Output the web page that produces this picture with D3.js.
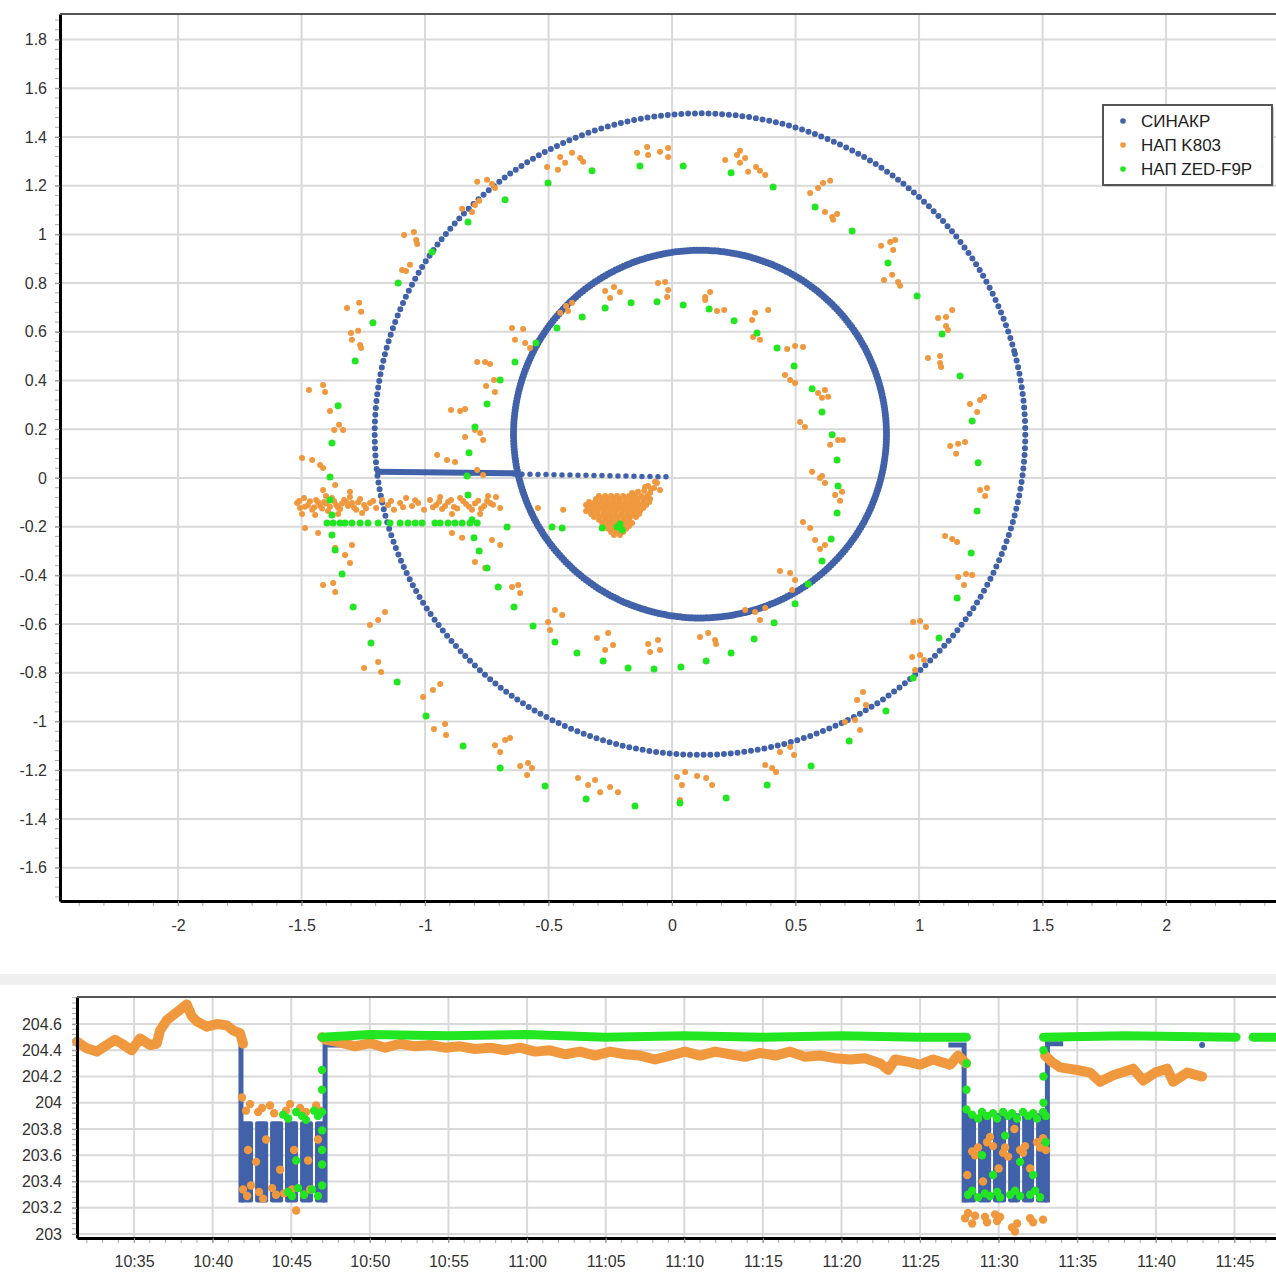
<!DOCTYPE html>
<html>
<head>
<meta charset="utf-8">
<script src="https://cdn.jsdelivr.net/npm/d3@7"></script>
<style>
body { margin: 0; background: #fff; }
text { font-family: "Liberation Sans", Arial, sans-serif; }
.tick text { fill: #333; font-size: 16px; }
</style>
</head>
<body>
<script>
//plan view (top) + altitude vs time (bottom)

var w = 1276, h = 1273;

var seriesNames = ["СИНАКР", "НАП K803", "НАП ZED-F9P"];
var seriesColors = ["#4161a9", "#f0983e", "#22e622"];

/* ---------- top chart data ---------- */
var xTopTicks = [-2, -1.5, -1, -0.5, 0, 0.5, 1, 1.5, 2];
var yTopTicks = [-1.6, -1.4, -1.2, -1, -0.8, -0.6, -0.4, -0.2, 0, 0.2, 0.4, 0.6, 0.8, 1, 1.2, 1.4, 1.6, 1.8];

//СИНАКР trajectory: two rings and the radial run-in
var outerRing = [[1.430,0.180],[1.385,0.521],[1.254,0.839],[1.044,1.111],[0.772,1.321],[0.454,1.452],[0.113,1.497],[-0.228,1.452],[-0.546,1.321],[-0.818,1.111],[-1.028,0.839],[-1.159,0.521],[-1.204,0.180],[-1.159,-0.161],[-1.028,-0.479],[-0.818,-0.751],[-0.546,-0.961],[-0.228,-1.092],[0.113,-1.137],[0.454,-1.092],[0.772,-0.961],[1.044,-0.751],[1.254,-0.479],[1.385,-0.161]];
var innerRing = [[0.868,0.180],[0.842,0.375],[0.767,0.558],[0.647,0.714],[0.491,0.834],[0.308,0.909],[0.113,0.935],[-0.082,0.909],[-0.265,0.834],[-0.421,0.714],[-0.541,0.558],[-0.616,0.375],[-0.642,0.180],[-0.616,-0.015],[-0.541,-0.198],[-0.421,-0.354],[-0.265,-0.474],[-0.082,-0.549],[0.113,-0.575],[0.308,-0.549],[0.491,-0.474],[0.647,-0.354],[0.767,-0.198],[0.842,-0.015]];
var radialSolid = [[-1.19,0.025],[-0.64,0.019]];
var radialDotted = [[-0.64,0.016],[-0.30,0.010],[0,0.004]];

//НАП K803 fixes
var k803Points = [
[-0.789,1.216],[-0.749,1.224],[-0.729,1.207],[-0.717,1.191],
[-0.506,1.277],[-0.453,1.318],[-0.433,1.294],[-0.405,1.335],[-0.372,1.314],[-0.360,1.298],[-0.462,1.265],
[-0.142,1.335],[-0.101,1.359],[-0.097,1.326],[-0.049,1.339],[-0.016,1.355],[-0.016,1.318],
[-0.850,1.105],[-0.798,1.121],[-0.781,1.138],[-0.810,1.092],
[-1.085,0.998],[-1.045,1.010],[-1.036,0.977],[-1.032,0.961],
[-1.093,0.854],[-1.061,0.875],[-1.077,0.850],
[-1.316,0.698],[-1.267,0.719],[-1.259,0.682],
[-1.300,0.595],[-1.271,0.604],[-1.296,0.567],[-1.263,0.546],[-1.259,0.534],
[-1.470,0.361],[-1.413,0.382],[-1.405,0.353],
[-1.385,0.275],[-1.348,0.218],[-1.332,0.197],[-1.368,0.197],
[-1.498,0.082],[-1.457,0.074],[-1.425,0.053],[-1.413,0.041],
[-0.648,0.616],[-0.603,0.612],[-0.636,0.567],[-0.595,0.554],[-0.575,0.534],
[-0.789,0.476],[-0.757,0.476],[-0.737,0.468],
[-0.753,0.378],[-0.721,0.402],[-0.717,0.353],
[-0.895,0.279],[-0.858,0.275],[-0.838,0.283],
[-0.838,0.168],[-0.798,0.197],[-0.777,0.185],[-0.765,0.156],
[-0.951,0.094],[-0.911,0.074],[-0.879,0.066],[-0.789,0.033],
[-0.453,0.678],[-0.429,0.706],[-0.405,0.719],[-0.421,0.686],
[-0.271,0.768],[-0.235,0.784],[-0.211,0.764],[-0.251,0.739],
[-0.057,0.801],[-0.028,0.805],[-0.016,0.772],[-0.020,0.743],
[0.215,1.306],[0.263,1.326],[0.275,1.343],[0.296,1.314],[0.275,1.294],
[0.308,1.257],[0.340,1.277],[0.356,1.261],[0.377,1.244],
[0.559,1.170],[0.591,1.191],[0.611,1.211],[0.640,1.220],
[0.619,1.092],[0.648,1.072],[0.668,1.084],[0.652,1.060],
[0.846,0.953],[0.883,0.969],[0.903,0.977],[0.895,0.936],
[0.858,0.813],[0.891,0.834],[0.915,0.805],[0.923,0.789],
[1.077,0.657],[1.109,0.661],[1.134,0.690],[1.109,0.624],[1.117,0.608],
[1.036,0.493],[1.085,0.501],[1.085,0.472],[1.089,0.456],
[1.206,0.304],[1.247,0.320],[1.263,0.333],[1.235,0.271],
[1.126,0.131],[1.158,0.140],[1.186,0.148],[1.150,0.099],
[0.134,0.743],[0.154,0.764],[0.134,0.731],[0.182,0.686],[0.211,0.690],
[0.336,0.678],[0.389,0.690],[0.324,0.649],[0.328,0.579],[0.356,0.567],
[0.466,0.530],[0.498,0.542],[0.530,0.538],
[0.457,0.423],[0.478,0.402],[0.498,0.390],
[0.591,0.349],[0.619,0.361],[0.632,0.333],[0.607,0.329],
[0.518,0.230],[0.538,0.209],
[0.640,0.136],[0.672,0.156],[0.692,0.156],
[0.567,0.025],[0.599,0.000],
[0.607,0.008],[0.619,-0.021],[0.660,-0.070],[0.688,-0.057],[0.680,-0.094],
[0.530,-0.181],[0.559,-0.205],[0.579,-0.255],[0.619,-0.275],[0.599,-0.292],
[0.437,-0.382],[0.478,-0.390],[0.498,-0.419],[0.486,-0.460],
[0.296,-0.542],[0.336,-0.550],[0.377,-0.534],[0.356,-0.583],
[0.113,-0.653],[0.146,-0.637],[0.174,-0.665],[0.178,-0.682],
[1.247,-0.049],[1.275,-0.041],[1.267,-0.074],
[1.105,-0.238],[1.134,-0.251],[1.154,-0.263],
[1.158,-0.407],[1.190,-0.394],[1.215,-0.398],[1.182,-0.439],
[0.976,-0.591],[1.004,-0.587],[1.028,-0.612],
[0.972,-0.735],[1.004,-0.727],[1.020,-0.747],[0.984,-0.789],
[0.749,-0.912],[0.773,-0.879],[0.785,-0.932],
[0.700,-1.002],[0.741,-0.994],[0.761,-1.035],
[0.437,-1.125],[0.478,-1.105],[0.494,-1.138],
[0.377,-1.179],[0.405,-1.191],[0.421,-1.207],
[0.020,-1.228],[0.053,-1.207],[0.040,-1.261],[0.101,-1.224],[0.138,-1.232],[0.162,-1.261],[0.032,-1.322],
[-1.486,-0.205],[-1.433,-0.226],[-1.413,-0.049],[-1.364,-0.029],[-1.304,-0.057],
[-1.364,-0.287],[-1.324,-0.316],[-1.296,-0.275],[-1.304,-0.349],
[-1.413,-0.439],[-1.372,-0.431],[-1.364,-0.468],
[-1.223,-0.604],[-1.190,-0.583],[-1.162,-0.550],
[-1.247,-0.780],[-1.190,-0.756],[-1.178,-0.797],
[-1.008,-0.899],[-0.968,-0.871],[-0.939,-0.846],
[-0.964,-1.031],[-0.919,-1.010],[-0.915,-1.055],
[-0.717,-1.097],[-0.676,-1.076],[-0.656,-1.068],[-0.696,-1.125],
[-0.615,-1.183],[-0.583,-1.170],[-0.567,-1.191],[-0.587,-1.220],
[-0.381,-1.232],[-0.340,-1.261],[-0.312,-1.240],[-0.291,-1.290],[-0.251,-1.269],[-0.219,-1.290],
[-0.502,-0.591],[-0.474,-0.542],[-0.445,-0.563],[-0.494,-0.624],
[-0.648,-0.448],[-0.623,-0.439],[-0.615,-0.472],
[-0.304,-0.657],[-0.259,-0.637],[-0.271,-0.706],[-0.239,-0.686],
[-0.097,-0.682],[-0.057,-0.665],[-0.049,-0.706],[-0.089,-0.715],
[-0.891,-0.226],[-0.850,-0.246],[-0.798,-0.345],[-0.757,-0.370],[-0.729,-0.255],[-0.696,-0.275],
[-0.696,-0.123],[-0.543,-0.123],[-0.441,-0.131],[-0.765,0.012],
//dense band left of the rings
[-1.518,-0.103],[-1.506,-0.123],[-1.490,-0.082],[-1.474,-0.111],[-1.457,-0.131],[-1.441,-0.090],[-1.425,-0.115],[-1.409,-0.099],[-1.393,-0.136],[-1.377,-0.082],
[-1.360,-0.111],[-1.344,-0.127],[-1.328,-0.090],[-1.312,-0.115],[-1.296,-0.103],[-1.279,-0.131],[-1.263,-0.086],[-1.247,-0.111],[-1.223,-0.103],[-1.198,-0.123],
[-1.174,-0.090],[-1.150,-0.111],[-1.126,-0.131],[-1.101,-0.103],[-1.077,-0.082],[-1.053,-0.115],[-1.028,-0.103],[-1.004,-0.131],[-0.980,-0.090],[-0.955,-0.111],
[-0.931,-0.127],[-0.907,-0.099],[-0.883,-0.119],[-0.858,-0.082],[-0.834,-0.107],[-0.810,-0.131],[-0.785,-0.094],[-0.761,-0.115],[-0.737,-0.103],[-0.713,-0.078],
[-1.498,-0.148],[-1.445,-0.152],[-1.401,-0.074],[-1.352,-0.148],[-1.304,-0.078],[-1.255,-0.144],[-0.939,-0.078],[-0.891,-0.148],[-0.826,-0.070],[-0.777,-0.148],[-0.745,-0.074],
[-1.510,-0.095],[-1.486,-0.118],[-1.466,-0.096],[-1.449,-0.120],[-1.433,-0.100],[-1.417,-0.125],[-1.401,-0.105],[-1.385,-0.118],[-1.368,-0.096],[-1.352,-0.122],
[-1.336,-0.105],[-1.320,-0.098],[-1.288,-0.120],[-1.271,-0.100],[-1.239,-0.125],[-1.210,-0.095],[-1.138,-0.095],[-1.089,-0.120],[-1.040,-0.092],
[-0.968,-0.120],[-0.943,-0.098],[-0.919,-0.115],[-0.895,-0.090],[-0.870,-0.125],[-0.846,-0.095],[-0.822,-0.118],[-0.798,-0.105],[-0.773,-0.125],[-0.749,-0.095],[-0.725,-0.110],
//cluster near the origin
[-0.097,-0.033],[-0.073,-0.041],[-0.069,-0.016],[-0.049,-0.049],[-0.085,-0.045],[-0.061,-0.021],[-0.109,-0.037],
[-0.162,-0.062],[-0.138,-0.057],[-0.113,-0.053],[-0.089,-0.062],
[-0.296,-0.074],[-0.271,-0.074],[-0.247,-0.074],[-0.223,-0.074],[-0.198,-0.074],[-0.174,-0.074],[-0.150,-0.074],[-0.125,-0.074],[-0.101,-0.074],
[-0.308,-0.086],[-0.283,-0.086],[-0.259,-0.086],[-0.235,-0.086],[-0.211,-0.086],[-0.186,-0.086],[-0.162,-0.086],[-0.138,-0.086],[-0.113,-0.086],[-0.089,-0.086],
[-0.336,-0.099],[-0.312,-0.099],[-0.287,-0.099],[-0.263,-0.099],[-0.239,-0.099],[-0.215,-0.099],[-0.190,-0.099],[-0.166,-0.099],[-0.142,-0.099],[-0.117,-0.099],[-0.093,-0.099],
[-0.348,-0.111],[-0.324,-0.111],[-0.300,-0.111],[-0.275,-0.111],[-0.251,-0.111],[-0.227,-0.111],[-0.202,-0.111],[-0.178,-0.111],[-0.154,-0.111],[-0.130,-0.111],[-0.105,-0.111],
[-0.336,-0.123],[-0.312,-0.123],[-0.287,-0.123],[-0.263,-0.123],[-0.239,-0.123],[-0.215,-0.123],[-0.190,-0.123],[-0.166,-0.123],[-0.142,-0.123],[-0.117,-0.123],
[-0.348,-0.136],[-0.324,-0.136],[-0.300,-0.136],[-0.275,-0.136],[-0.251,-0.136],[-0.227,-0.136],[-0.202,-0.136],[-0.178,-0.136],[-0.154,-0.136],[-0.130,-0.136],
[-0.328,-0.148],[-0.304,-0.148],[-0.279,-0.148],[-0.255,-0.148],[-0.231,-0.148],[-0.206,-0.148],[-0.182,-0.148],[-0.158,-0.148],[-0.134,-0.148],
[-0.316,-0.160],[-0.291,-0.160],[-0.267,-0.160],[-0.243,-0.160],[-0.219,-0.160],[-0.194,-0.160],[-0.170,-0.160],[-0.146,-0.160],
[-0.296,-0.172],[-0.271,-0.172],[-0.247,-0.172],[-0.223,-0.172],[-0.198,-0.172],[-0.174,-0.172],
[-0.283,-0.185],[-0.259,-0.185],[-0.235,-0.185],[-0.211,-0.185],[-0.186,-0.185],[-0.162,-0.185],
[-0.271,-0.197],[-0.247,-0.197],[-0.223,-0.197],[-0.198,-0.197],[-0.174,-0.197],
[-0.259,-0.209],[-0.235,-0.209],[-0.211,-0.209],[-0.186,-0.209],
[-0.247,-0.222],[-0.223,-0.222],[-0.198,-0.222],
[-0.235,-0.234],[-0.211,-0.234]
];

//НАП ZED-F9P fixes
var zedPoints = [
[-0.676,1.142],[-0.826,1.051],[-0.972,0.928],[-1.109,0.801],[-1.211,0.637],[-1.283,0.480],[-1.352,0.296],[-1.377,0.144],[-1.385,0.004],
[-0.502,1.211],[-0.324,1.261],[-0.130,1.281],[0.045,1.281],
[-0.466,0.616],[-0.551,0.554],[-0.636,0.476],[-0.696,0.402],[-0.749,0.304],[-0.798,0.209],[-0.822,0.103],[-0.830,0.008],
[-0.364,0.661],[-0.271,0.698],[-0.166,0.719],[-0.061,0.723],[0.045,0.710],
[0.239,1.253],[0.409,1.195],[0.579,1.113],[0.729,1.014],[0.874,0.883],[0.992,0.747],[1.093,0.591],[1.166,0.419],[1.215,0.234],[1.239,0.062],
[0.150,0.694],[0.251,0.645],[0.344,0.595],[0.425,0.534],[0.494,0.460],[0.567,0.366],[0.607,0.271],[0.648,0.177],[0.668,0.074],
[0.672,-0.033],[0.668,-0.144],[0.644,-0.251],[0.607,-0.341],[0.551,-0.435],[0.498,-0.517],[0.413,-0.595],[0.332,-0.661],[0.239,-0.719],[0.138,-0.752],[0.036,-0.776],
[1.235,-0.136],[1.211,-0.308],[1.154,-0.493],[1.081,-0.657],[0.976,-0.821],[0.866,-0.957],[0.717,-1.080],[0.563,-1.183],[0.385,-1.261],[0.219,-1.314],[0.032,-1.335],
[-1.397,-0.185],[-1.372,-0.185],[-1.344,-0.185],[-1.324,-0.185],[-1.296,-0.185],[-1.263,-0.185],[-1.231,-0.185],[-1.190,-0.185],[-1.142,-0.185],[-1.101,-0.185],
[-1.069,-0.185],[-1.040,-0.185],[-1.012,-0.185],[-0.960,-0.185],[-0.939,-0.185],[-0.907,-0.185],[-0.879,-0.185],[-0.850,-0.185],[-0.818,-0.185],[-0.789,-0.185],
[-0.668,-0.201],[-0.486,-0.201],[-0.445,-0.205],[-0.283,-0.205],[-0.223,-0.201],[-0.202,-0.214],[-0.211,-0.189],
[-1.385,-0.090],[-1.377,-0.152],[-1.377,-0.234],[-1.364,-0.296],[-1.336,-0.394],[-1.291,-0.530],[-1.219,-0.678],[-1.113,-0.838],[-0.996,-0.977],[-0.846,-1.101],[-0.696,-1.191],[-0.514,-1.265],[-0.348,-1.318],[-0.150,-1.347],
[-0.826,-0.070],[-0.810,-0.172],[-0.802,-0.246],[-0.781,-0.300],[-0.749,-0.370],[-0.704,-0.448],[-0.640,-0.530],[-0.563,-0.608],[-0.474,-0.674],[-0.385,-0.719],[-0.279,-0.752],[-0.178,-0.780],[-0.073,-0.784]
];

/* ---------- bottom chart data (minutes after 10:00, height) ---------- */
var yBotTicks = [203, 203.2, 203.4, 203.6, 203.8, 204, 204.2, 204.4, 204.6];

var sinakrSteps = [
    [[41.80,204.44],[41.80,203.24]],
    [[47.15,203.24],[47.15,204.44],[50.50,204.44]],
    [[86.80,204.44],[87.80,204.44],[87.80,203.24]],
    [[93.10,203.24],[93.10,204.45],[94.10,204.45]]
];
//start, end, top of each dense column of СИНАКР points
var sinakrColumns = [[41.74,42.57,203.86],[42.70,43.53,203.86],[43.65,44.48,203.86],[44.60,45.43,203.86],[45.56,46.38,203.86],[46.51,47.21,203.86],
    [87.73,88.56,203.92],[88.69,89.52,203.92],[89.64,90.47,203.92],[90.60,91.36,203.92],[91.49,92.25,203.92],[92.38,93.15,203.92]];
var sinakrBottom = 203.24;
var sinakrLone = [[102.94,204.44]];

var k803Before = [[31.37,204.465],[31.99,204.415],[32.63,204.39],[33.26,204.44],[33.79,204.48],[34.22,204.45],[34.85,204.40],[35.38,204.49],[36.02,204.44],[36.44,204.45],[36.65,204.55],[37.08,204.63],[37.50,204.67],[37.93,204.71],[38.35,204.75],[38.67,204.66],[38.99,204.62],[39.62,204.58],[40.26,204.60],[40.90,204.59],[41.32,204.55],[41.74,204.53],[41.93,204.45]];
var k803Middle = [[46.96,204.50],[47.21,204.48],[48.10,204.46],[49.06,204.43],[50.01,204.455],[50.97,204.42],[51.92,204.45],[52.88,204.43],[53.83,204.44],[54.78,204.42],[55.74,204.43],[56.69,204.41],[57.65,204.42],[58.60,204.40],[59.55,204.42],[60.51,204.39],[61.46,204.40],[62.42,204.37],[63.37,204.39],[64.33,204.36],[65.28,204.39],[66.23,204.37],[67.19,204.36],[68.14,204.33],[69.10,204.36],[70.05,204.39],[71.01,204.36],[71.96,204.39],[72.91,204.37],[73.87,204.35],[74.82,204.38],[75.78,204.36],[76.73,204.39],[77.68,204.35],[78.64,204.36],[79.59,204.34],[80.55,204.33],[81.50,204.34],[82.46,204.30],[82.97,204.25],[83.41,204.33],[84.36,204.31],[85.00,204.29],[85.83,204.33],[86.91,204.29],[87.42,204.36],[87.93,204.30]];
var k803After = [[92.95,204.36],[93.40,204.31],[93.91,204.27],[94.99,204.25],[95.82,204.23],[96.45,204.16],[97.28,204.21],[98.55,204.26],[99.19,204.17],[99.95,204.23],[100.71,204.26],[101.10,204.16],[101.99,204.23],[102.94,204.20]];
var k803Scatter = [
[42.12,203.94],[42.38,203.99],[42.89,203.93],[43.14,203.96],[43.65,203.98],[43.91,203.92],[44.67,203.94],[44.92,203.99],[45.56,203.96],[45.94,203.93],[46.58,203.98],[46.83,203.94],
[41.93,203.34],[42.19,203.29],[42.44,203.37],[42.95,203.32],[43.21,203.27],[43.78,203.35],[44.03,203.30],[44.54,203.31],[45.05,203.34],[45.31,203.18],[45.81,203.30],[46.20,203.34],
[41.87,204.04],[42.25,203.64],[42.76,203.55],[43.40,203.72],[44.29,203.49],[45.18,203.64],[46.07,203.56],[46.70,203.72],
[88.31,203.63],[88.50,203.60],[88.69,203.66],[89.26,203.70],[89.45,203.74],[89.64,203.67],[90.28,203.62],[90.41,203.66],[90.60,203.59],[91.36,203.64],[91.55,203.62],[91.68,203.67],[92.44,203.70],[92.63,203.66],[92.82,203.73],[93.00,203.64],
[87.86,203.12],[88.05,203.16],[88.31,203.08],[88.50,203.14],[89.13,203.13],[89.26,203.09],[89.77,203.15],[89.90,203.10],[90.09,203.13],[90.85,203.05],[91.04,203.02],[91.17,203.08],[92.00,203.12],[92.19,203.09],[92.82,203.11],
[88.00,203.45],[89.00,203.40],[90.00,203.50],[91.00,203.80],[92.00,203.50]
];

var zedMiddle = [[46.96,204.50],[50,204.52],[55,204.51],[60,204.52],[65,204.50],[70,204.51],[75,204.50],[80,204.51],[85,204.50],[87.95,204.50]];
var zedAfter = [[92.85,204.50],[98,204.51],[105.10,204.50]];
var zedEnd = [[106.18,204.50],[107.64,204.50]];
var zedScatter = [
[44.48,203.91],[44.80,203.88],[45.31,203.93],[45.69,203.90],[45.94,203.87],[46.45,203.94],[46.70,203.90],[46.96,203.93],
[44.80,203.32],[45.05,203.29],[45.43,203.35],[45.81,203.30],[46.32,203.34],[46.70,203.29],[46.96,203.37],
[46.96,203.64],[46.96,203.53],[46.96,203.79],[46.96,204.10],[46.96,204.25],[45.31,203.56],
[88.31,203.91],[88.69,203.88],[88.94,203.93],[89.26,203.90],[89.64,203.92],[89.90,203.88],[90.28,203.93],[90.60,203.90],[90.85,203.92],[91.17,203.88],[91.55,203.93],[91.87,203.90],[92.19,203.92],[92.44,203.88],[92.82,203.93],[93.00,203.90],
[88.05,203.30],[88.31,203.33],[88.69,203.28],[89.13,203.31],[89.45,203.29],[89.90,203.32],[90.09,203.28],[90.73,203.30],[91.04,203.33],[91.36,203.29],[92.00,203.30],[92.32,203.33],[92.63,203.28],
[88.94,203.60],[89.64,203.45],[90.41,203.75],[91.36,203.55],[92.19,203.45],[93.00,203.70],
[87.95,204.30],[87.95,204.10],[87.95,203.95],[92.85,204.00],[92.85,204.20],[92.85,204.40]
];

window.onload = function(){

    var svg = d3.select("body")
        .append("svg")
        .attr("width", w)
        .attr("height", h);

    var gridColor = "#d9d9d9";
    var fmtNum = function(d){ return String(+d.toFixed(2)); };

    /* ================= top chart ================= */
    var xTop = d3.scaleLinear().domain([-2.478, 2.445]).range([60, 1276]);
    var yTop = d3.scaleLinear().domain([-1.737, 1.905]).range([901, 14]);

    var top = svg.append("g").attr("class", "topChart");

    //gridlines
    top.selectAll(".vgrid")
        .data(xTopTicks)
        .enter()
        .append("line")
        .attr("x1", function(d){ return xTop(d); })
        .attr("x2", function(d){ return xTop(d); })
        .attr("y1", yTop.range()[1])
        .attr("y2", yTop.range()[0])
        .style("stroke", gridColor)
        .style("stroke-width", 2);

    top.selectAll(".hgrid")
        .data(yTopTicks)
        .enter()
        .append("line")
        .attr("x1", xTop.range()[0])
        .attr("x2", xTop.range()[1])
        .attr("y1", function(d){ return yTop(d); })
        .attr("y2", function(d){ return yTop(d); })
        .style("stroke", gridColor)
        .style("stroke-width", 2);

    //СИНАКР drawn as dotted rings
    var ringLine = d3.line()
        .x(function(d){ return xTop(d[0]); })
        .y(function(d){ return yTop(d[1]); })
        .curve(d3.curveCardinalClosed);

    var openLine = d3.line()
        .x(function(d){ return xTop(d[0]); })
        .y(function(d){ return yTop(d[1]); });

    top.append("path")
        .attr("d", ringLine(outerRing))
        .style("fill", "none")
        .style("stroke", seriesColors[0])
        .style("stroke-width", 6)
        .style("stroke-linecap", "round")
        .style("stroke-dasharray", "0 6.8");

    top.append("path")
        .attr("d", ringLine(innerRing))
        .style("fill", "none")
        .style("stroke", seriesColors[0])
        .style("stroke-width", 7)
        .style("stroke-linecap", "round")
        .style("stroke-dasharray", "0 3");

    top.append("path")
        .attr("d", openLine(radialSolid))
        .style("fill", "none")
        .style("stroke", seriesColors[0])
        .style("stroke-width", 6)
        .style("stroke-linecap", "round");

    top.append("path")
        .attr("d", openLine(radialDotted))
        .style("fill", "none")
        .style("stroke", seriesColors[0])
        .style("stroke-width", 5.5)
        .style("stroke-linecap", "round")
        .style("stroke-dasharray", "0 8");

    top.selectAll(".k803")
        .data(k803Points)
        .enter()
        .append("circle")
        .attr("class", "k803")
        .attr("cx", function(d){ return xTop(d[0]); })
        .attr("cy", function(d){ return yTop(d[1]); })
        .attr("r", 3)
        .style("fill", seriesColors[1]);

    top.selectAll(".zed")
        .data(zedPoints)
        .enter()
        .append("circle")
        .attr("class", "zed")
        .attr("cx", function(d){ return xTop(d[0]); })
        .attr("cy", function(d){ return yTop(d[1]); })
        .attr("r", 3.5)
        .style("fill", seriesColors[2]);

    //axes
    var xTopAxis = d3.axisBottom(xTop)
        .tickValues(xTopTicks)
        .tickFormat(fmtNum)
        .tickSize(5)
        .tickSizeOuter(0)
        .tickPadding(14);

    var yTopAxis = d3.axisLeft(yTop)
        .tickValues(yTopTicks)
        .tickFormat(fmtNum)
        .tickSize(5)
        .tickSizeOuter(0)
        .tickPadding(8);

    //minor ticks
    top.selectAll(".xminor")
        .data(d3.range(-24, 25))
        .enter()
        .append("line")
        .attr("x1", function(d){ return xTop(d / 10); })
        .attr("x2", function(d){ return xTop(d / 10); })
        .attr("y1", 901)
        .attr("y2", 906)
        .style("stroke", "#aaa");

    top.selectAll(".yminor")
        .data(d3.range(-43, 48))
        .enter()
        .append("line")
        .attr("x1", 55)
        .attr("x2", 60)
        .attr("y1", function(d){ return yTop(d * 0.04); })
        .attr("y2", function(d){ return yTop(d * 0.04); })
        .style("stroke", "#aaa");

    var gx = top.append("g")
        .attr("class", "axis")
        .attr("transform", "translate(0,901)")
        .call(xTopAxis);

    var gy = top.append("g")
        .attr("class", "axis")
        .attr("transform", "translate(60,0)")
        .call(yTopAxis);

    [gx, gy].forEach(function(g){
        g.select(".domain").style("stroke", "#000").style("stroke-width", 3);
        g.selectAll(".tick line").style("stroke", "#999");
    });

    top.append("line")
        .attr("x1", 60).attr("x2", 1276)
        .attr("y1", 14).attr("y2", 14)
        .style("stroke", "#555")
        .style("stroke-width", 2);

    //legend
    var legend = top.append("g")
        .attr("transform", "translate(1103,105)");

    legend.append("rect")
        .attr("x", 2).attr("y", 2)
        .attr("width", 169).attr("height", 80)
        .style("fill", "#ccc");

    legend.append("rect")
        .attr("width", 169)
        .attr("height", 80)
        .style("fill", "#fff")
        .style("stroke", "#555")
        .style("stroke-width", 2);

    var items = legend.selectAll(".item")
        .data(seriesNames)
        .enter()
        .append("g")
        .attr("transform", function(d, i){ return "translate(0," + (16 + i * 24) + ")"; });

    items.append("circle")
        .attr("cx", 20)
        .attr("r", 2.8)
        .style("fill", function(d, i){ return seriesColors[i]; });

    items.append("text")
        .attr("x", 38)
        .attr("dy", "0.36em")
        .style("font-size", "17px")
        .style("fill", "#222")
        .text(function(d){ return d; });

    //separator band between the charts
    svg.append("rect")
        .attr("x", 0).attr("y", 974)
        .attr("width", w).attr("height", 11)
        .style("fill", "#efefef");

    /* ================= bottom chart ================= */
    var t0 = new Date(2020, 0, 1, 10, 0, 0);
    var toTime = function(m){ return new Date(t0.getTime() + m * 60000); };

    var xBot = d3.scaleTime().domain([toTime(31.37), toTime(107.64)]).range([77, 1276]);
    var yBot = d3.scaleLinear().domain([202.97, 204.806]).range([1238, 997]);

    var bot = svg.append("g").attr("class", "bottomChart");

    var timeTicks = xBot.ticks(d3.timeMinute.every(5));

    bot.selectAll(".vgrid")
        .data(timeTicks)
        .enter()
        .append("line")
        .attr("x1", function(d){ return xBot(d); })
        .attr("x2", function(d){ return xBot(d); })
        .attr("y1", 997)
        .attr("y2", 1238)
        .style("stroke", gridColor)
        .style("stroke-width", 2);

    bot.selectAll(".hgrid")
        .data(yBotTicks)
        .enter()
        .append("line")
        .attr("x1", 77)
        .attr("x2", 1276)
        .attr("y1", function(d){ return yBot(d); })
        .attr("y2", function(d){ return yBot(d); })
        .style("stroke", gridColor)
        .style("stroke-width", 2);

    var botLine = d3.line()
        .x(function(d){ return xBot(toTime(d[0])); })
        .y(function(d){ return yBot(d[1]); });

    //СИНАКР
    bot.selectAll(".col")
        .data(sinakrColumns)
        .enter()
        .append("rect")
        .attr("x", function(d){ return xBot(toTime(d[0])); })
        .attr("width", function(d){ return xBot(toTime(d[1])) - xBot(toTime(d[0])); })
        .attr("y", function(d){ return yBot(d[2]); })
        .attr("height", function(d){ return yBot(sinakrBottom) - yBot(d[2]); })
        .attr("rx", 2)
        .style("fill", seriesColors[0]);

    bot.selectAll(".step")
        .data(sinakrSteps)
        .enter()
        .append("path")
        .attr("d", botLine)
        .style("fill", "none")
        .style("stroke", seriesColors[0])
        .style("stroke-width", 5);

    bot.selectAll(".lone")
        .data(sinakrLone)
        .enter()
        .append("circle")
        .attr("cx", function(d){ return xBot(toTime(d[0])); })
        .attr("cy", function(d){ return yBot(d[1]); })
        .attr("r", 3)
        .style("fill", seriesColors[0]);

    //НАП K803
    bot.selectAll(".k803line")
        .data([k803Before, k803Middle, k803After])
        .enter()
        .append("path")
        .attr("d", botLine)
        .style("fill", "none")
        .style("stroke", seriesColors[1])
        .style("stroke-width", 10)
        .style("stroke-linejoin", "round")
        .style("stroke-linecap", "round");

    bot.selectAll(".k803dot")
        .data(k803Scatter)
        .enter()
        .append("circle")
        .attr("cx", function(d){ return xBot(toTime(d[0])); })
        .attr("cy", function(d){ return yBot(d[1]); })
        .attr("r", 4.2)
        .style("fill", seriesColors[1]);

    //НАП ZED-F9P
    bot.selectAll(".zedline")
        .data([zedMiddle, zedAfter, zedEnd])
        .enter()
        .append("path")
        .attr("d", botLine)
        .style("fill", "none")
        .style("stroke", seriesColors[2])
        .style("stroke-width", 9)
        .style("stroke-linecap", "round");

    bot.selectAll(".zeddot")
        .data(zedScatter)
        .enter()
        .append("circle")
        .attr("cx", function(d){ return xBot(toTime(d[0])); })
        .attr("cy", function(d){ return yBot(d[1]); })
        .attr("r", 4.2)
        .style("fill", seriesColors[2]);

    //axes
    bot.selectAll(".xminor")
        .data(xBot.ticks(d3.timeMinute.every(1)))
        .enter()
        .append("line")
        .attr("x1", function(d){ return xBot(d); })
        .attr("x2", function(d){ return xBot(d); })
        .attr("y1", 1238)
        .attr("y2", 1243)
        .style("stroke", "#aaa");

    bot.selectAll(".yminor")
        .data(d3.range(0, 46))
        .enter()
        .append("line")
        .attr("x1", 72)
        .attr("x2", 77)
        .attr("y1", function(d){ return yBot(203 + d * 0.04); })
        .attr("y2", function(d){ return yBot(203 + d * 0.04); })
        .style("stroke", "#aaa");

    var bx = bot.append("g")
        .attr("transform", "translate(0,1238)")
        .call(d3.axisBottom(xBot)
            .tickValues(timeTicks)
            .tickFormat(d3.timeFormat("%H:%M"))
            .tickSize(5)
            .tickSizeOuter(0)
            .tickPadding(13));

    var by = bot.append("g")
        .attr("transform", "translate(77,0)")
        .call(d3.axisLeft(yBot)
            .tickValues(yBotTicks)
            .tickFormat(fmtNum)
            .tickSize(5)
            .tickSizeOuter(0)
            .tickPadding(10));

    [bx, by].forEach(function(g){
        g.select(".domain").style("stroke", "#000").style("stroke-width", 3);
        g.selectAll(".tick line").style("stroke", "#999");
    });

    bot.append("line")
        .attr("x1", 77).attr("x2", 1276)
        .attr("y1", 997).attr("y2", 997)
        .style("stroke", "#555")
        .style("stroke-width", 2);
};
</script>
</body>
</html>
